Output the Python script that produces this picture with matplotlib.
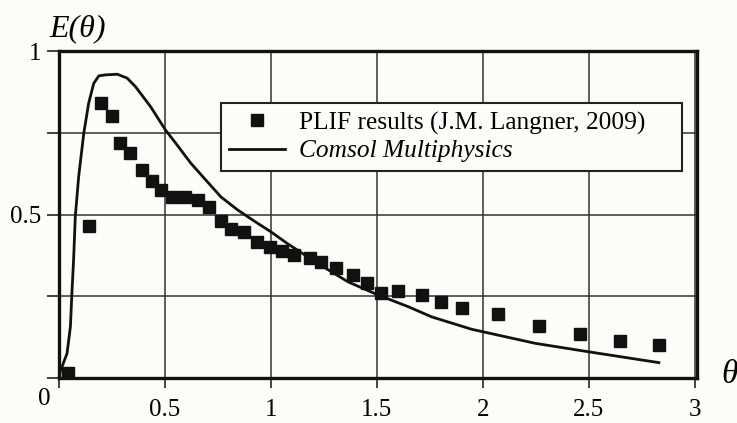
import matplotlib
matplotlib.use("Agg")
import matplotlib.pyplot as plt

# PLIF measurements (squares)
theta_exp = [0.044, 0.144, 0.199, 0.251, 0.29, 0.334, 0.39, 0.44, 0.48, 0.532,
             0.595, 0.658, 0.708, 0.764, 0.811, 0.871, 0.934, 0.997, 1.053, 1.108,
             1.185, 1.234, 1.308, 1.387, 1.455, 1.517, 1.60, 1.711, 1.802, 1.90,
             2.069, 2.263, 2.46, 2.645, 2.831]
E_exp = [0.015, 0.465, 0.84, 0.80, 0.72, 0.689, 0.636, 0.603, 0.575, 0.554,
         0.554, 0.544, 0.522, 0.481, 0.455, 0.447, 0.417, 0.400, 0.389, 0.376,
         0.366, 0.354, 0.337, 0.315, 0.291, 0.261, 0.266, 0.254, 0.233, 0.215,
         0.196, 0.160, 0.134, 0.114, 0.101]

# Comsol simulation curve
theta_sim = [0.0, 0.006, 0.038, 0.054, 0.061, 0.069, 0.077, 0.093, 0.117, 0.14,
             0.164, 0.188, 0.219, 0.275, 0.322, 0.361, 0.432, 0.503, 0.551, 0.622,
             0.685, 0.764, 0.843, 0.921, 1.0, 1.08, 1.142, 1.206, 1.364, 1.505,
             1.648, 1.758, 1.947, 2.247, 2.5, 2.83]
E_sim = [0.0, 0.02, 0.075, 0.157, 0.259, 0.361, 0.493, 0.616, 0.748, 0.84,
         0.901, 0.924, 0.927, 0.929, 0.917, 0.891, 0.83, 0.758, 0.718, 0.657,
         0.611, 0.554, 0.514, 0.480, 0.447, 0.410, 0.384, 0.356, 0.294, 0.254,
         0.218, 0.187, 0.149, 0.106, 0.08, 0.047]

x_ticks = [0, 0.5, 1, 1.5, 2, 2.5, 3]
x_labels = ['', '0.5', '1', '1.5', '2', '2.5', '3']
y_ticks = [0, 0.25, 0.5, 0.75, 1]
y_labels = ['', '', '0.5', '', '1']

plt.rcParams['font.family'] = ['Liberation Serif', 'DejaVu Serif']
bg = '#fcfcf8'

fig = plt.figure(figsize=(7.37, 4.23), dpi=100, facecolor=bg)
ax = fig.add_axes([0.080, 0.1064, 0.8657, 0.773])
ax.set_facecolor(bg)

ax.plot(theta_exp, E_exp, linestyle='none', marker='s', markersize=8.5,
        color='#111111', label='PLIF results (J.M. Langner, 2009)', zorder=3)
ax.plot(theta_sim, E_sim, color='#111111', linewidth=2.0,
        label='Comsol Multiphysics', zorder=3)

ax.set_xlim(0, 3.01)
ax.set_ylim(0, 1)
ax.set_xticks(x_ticks)
ax.set_xticklabels(x_labels)
ax.set_yticks(y_ticks)
ax.set_yticklabels(y_labels)
ax.tick_params(axis='both', labelsize=18, color='#222222', width=1.2)
ax.tick_params(axis='x', length=7, pad=8)
ax.tick_params(axis='y', length=9, pad=4)

ax.grid(True, color='#333333', linewidth=1.1)
ax.set_axisbelow(True)
for s in ax.spines.values():
    s.set_linewidth(2.4)
    s.set_color('#111111')

ax.annotate('0', xy=(0, 0), xytext=(-15, -21), textcoords='offset pixels',
            ha='center', va='center', fontsize=18)

fig.text(0.105, 0.931, 'E(θ)', style='italic', fontsize=23, ha='center', va='center')
fig.text(0.99, 0.113, 'θ', style='italic', fontsize=24, ha='center', va='center')

leg = ax.legend(loc='upper left', bbox_to_anchor=(0.254, 0.627, 0.722, 0.214),
                mode='expand', fontsize=18.3, frameon=True, fancybox=False,
                framealpha=1, edgecolor='#222222', markerscale=1.0,
                handlelength=2.2, handletextpad=0.55, borderpad=0.33,
                labelspacing=0.2, borderaxespad=0)
leg.get_frame().set_linewidth(1.5)
leg.get_frame().set_facecolor(bg)
leg.get_texts()[1].set_style('italic')

fig.savefig('out.png', dpi=100, facecolor=bg)
